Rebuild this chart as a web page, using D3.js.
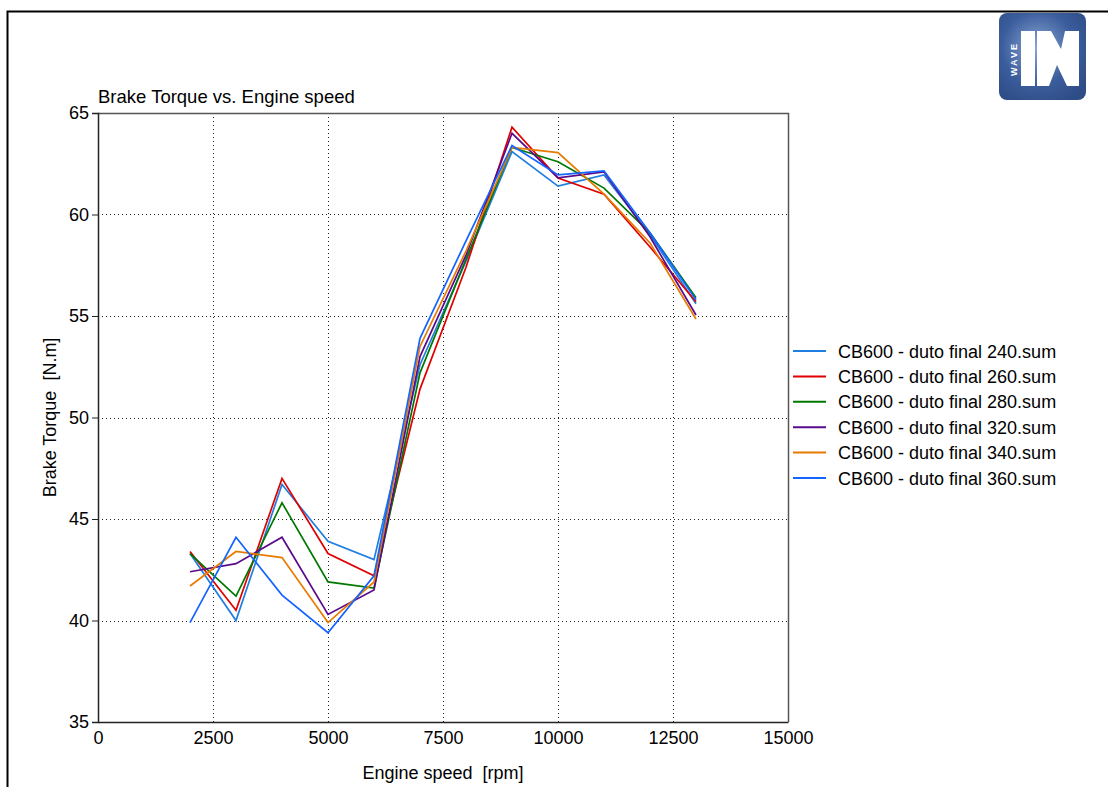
<!DOCTYPE html>
<html>
<head>
<meta charset="utf-8">
<script src="https://cdn.jsdelivr.net/npm/d3@7"></script>
<style>
  body { margin: 0; background: #fff; }
  svg text { font-family: "Liberation Sans", Arial, sans-serif; fill: #000; white-space: pre; }
</style>
</head>
<body>
<div id="chart"></div>
<script>
// engine speed points (rpm)
var speeds = [2000, 3000, 4000, 5000, 6000, 7000, 8000, 9000, 10000, 11000, 12000, 13000];

var seriesNames = ["CB600 - duto final 240.sum", "CB600 - duto final 260.sum", "CB600 - duto final 280.sum",
                   "CB600 - duto final 320.sum", "CB600 - duto final 340.sum", "CB600 - duto final 360.sum"];
var seriesColors = ["#1f7fe0", "#e00000", "#007800", "#5a0a8c", "#e87a00", "#1464ff"];

// brake torque [N.m]
var torque240 = [43.3, 40.0, 46.7, 43.9, 43.0, 52.6, 57.7, 63.1, 61.4, 61.95, 59.0, 55.6];
var torque260 = [43.4, 40.5, 47.0, 43.3, 42.2, 51.4, 57.4, 64.3, 61.8, 61.0, 58.4, 55.7];
var torque280 = [43.3, 41.2, 45.8, 41.9, 41.6, 52.2, 57.8, 63.3, 62.6, 61.3, 59.1, 55.9];
var torque320 = [42.4, 42.8, 44.1, 40.3, 41.5, 53.0, 58.0, 64.0, 61.8, 62.1, 58.9, 55.05];
var torque340 = [41.7, 43.4, 43.1, 39.9, 41.9, 53.5, 58.2, 63.3, 63.05, 61.0, 58.6, 54.85];
var torque360 = [39.9, 44.1, 41.25, 39.4, 42.2, 53.9, 58.7, 63.4, 61.95, 62.15, 59.1, 55.8];

var allSeries = [torque240, torque260, torque280, torque320, torque340, torque360];

var xTicks = [0, 2500, 5000, 7500, 10000, 12500, 15000];
var yTicks = [35, 40, 45, 50, 55, 60, 65];

var width = 1108, height = 787;
var pLeft = 98, pRight = 788, pTop = 113, pBottom = 722;

var svg = d3.select("#chart").append("svg")
  .attr("width", width)
  .attr("height", height);

// outer frame
svg.append("rect")
  .attr("x", 7.5).attr("y", 11.5)
  .attr("width", 1200).attr("height", 1000)
  .attr("fill", "none").attr("stroke", "#000").attr("stroke-width", 2);

var x = d3.scaleLinear().domain([0, 15000]).range([pLeft, pRight]);
var y = d3.scaleLinear().domain([35, 65]).range([pBottom, pTop]);

// grid
svg.append("g").selectAll("line")
  .data(xTicks.slice(1, -1))
  .enter().append("line")
  .attr("x1", d => Math.round(x(d)) + 0.5).attr("x2", d => Math.round(x(d)) + 0.5)
  .attr("y1", pTop).attr("y2", pBottom)
  .attr("stroke", "#222").attr("stroke-dasharray", "1,3");

svg.append("g").selectAll("line")
  .data(yTicks.slice(1, -1))
  .enter().append("line")
  .attr("y1", d => Math.round(y(d)) + 0.5).attr("y2", d => Math.round(y(d)) + 0.5)
  .attr("x1", pLeft).attr("x2", pRight)
  .attr("stroke", "#222").attr("stroke-dasharray", "1,3");

// plot border (top / right)
svg.append("path")
  .attr("d", "M" + pLeft + "," + (pTop + 0.5) + "H" + (pRight + 0.5) + "V" + pBottom)
  .attr("fill", "none").attr("stroke", "#555").attr("stroke-width", 1.5);

// axes
var xAxis = d3.axisBottom(x).tickValues(xTicks).tickSize(0).tickPadding(9).tickFormat(d3.format("d"));
var gx = svg.append("g").attr("transform", "translate(0," + pBottom + ")").call(xAxis);
gx.select(".domain").attr("stroke", "#222").attr("stroke-width", 1.5);
gx.selectAll("text").style("font-size", "18px");

var yAxis = d3.axisLeft(y).tickValues(yTicks).tickSize(6).tickPadding(3);
var gy = svg.append("g").attr("transform", "translate(" + pLeft + ",0)").call(yAxis);
gy.select(".domain").attr("stroke", "#222").attr("stroke-width", 1.5);
gy.selectAll(".tick line").attr("stroke", "#222");
gy.selectAll("text").style("font-size", "18px");

// labels
svg.append("text").attr("x", pLeft).attr("y", 103)
  .style("font-size", "18.5px").text("Brake Torque vs. Engine speed");

svg.append("text").attr("x", 443).attr("y", 779)
  .attr("text-anchor", "middle").style("font-size", "18px")
  .text("Engine speed  [rpm]");

svg.append("text")
  .attr("transform", "translate(56," + ((pTop + pBottom) / 2) + ") rotate(-90)")
  .attr("text-anchor", "middle").style("font-size", "18px")
  .text("Brake Torque  [N.m]");

// lines
var line = d3.line()
  .x((d, i) => x(speeds[i]))
  .y(d => y(d));

svg.append("g").selectAll("path")
  .data(allSeries)
  .enter().append("path")
  .attr("d", line)
  .attr("fill", "none")
  .attr("stroke", (d, i) => seriesColors[i])
  .attr("stroke-width", 1.7)
  .attr("stroke-linejoin", "miter");

// legend
var legend = svg.append("g").selectAll("g")
  .data(seriesNames)
  .enter().append("g")
  .attr("transform", (d, i) => "translate(793," + (351 + i * 25.4) + ")");
legend.append("line")
  .attr("x1", 0).attr("x2", 33)
  .attr("stroke", (d, i) => seriesColors[i]).attr("stroke-width", 2);
legend.append("text")
  .attr("x", 45).attr("y", 6.5)
  .style("font-size", "18px")
  .text(d => d);

// logo
var logo = svg.append("g").attr("transform", "translate(999,13)");
var grad = svg.append("defs").append("radialGradient").attr("id", "lg")
  .attr("cx", "45%").attr("cy", "40%").attr("r", "70%");
grad.append("stop").attr("offset", "0%").attr("stop-color", "#8aa6d6");
grad.append("stop").attr("offset", "60%").attr("stop-color", "#3b5d9c");
grad.append("stop").attr("offset", "100%").attr("stop-color", "#2e4c86");
logo.append("rect").attr("width", 87).attr("height", 87).attr("rx", 8)
  .attr("fill", "url(#lg)");
logo.append("rect").attr("x", 22).attr("y", 18).attr("width", 14).attr("height", 55).attr("fill", "#fff");
logo.append("path").attr("d", "M38,73 V18 H52 L62,36 L66,18 H80 V73 H68 L58,52 L50,73 Z").attr("fill", "#fff");
logo.append("text")
  .attr("transform", "translate(18,46) rotate(-90)")
  .attr("text-anchor", "middle")
  .style("font-size", "9px").style("font-weight", "bold").style("letter-spacing", "2px")
  .style("fill", "#fff")
  .text("WAVE");
</script>
</body>
</html>
